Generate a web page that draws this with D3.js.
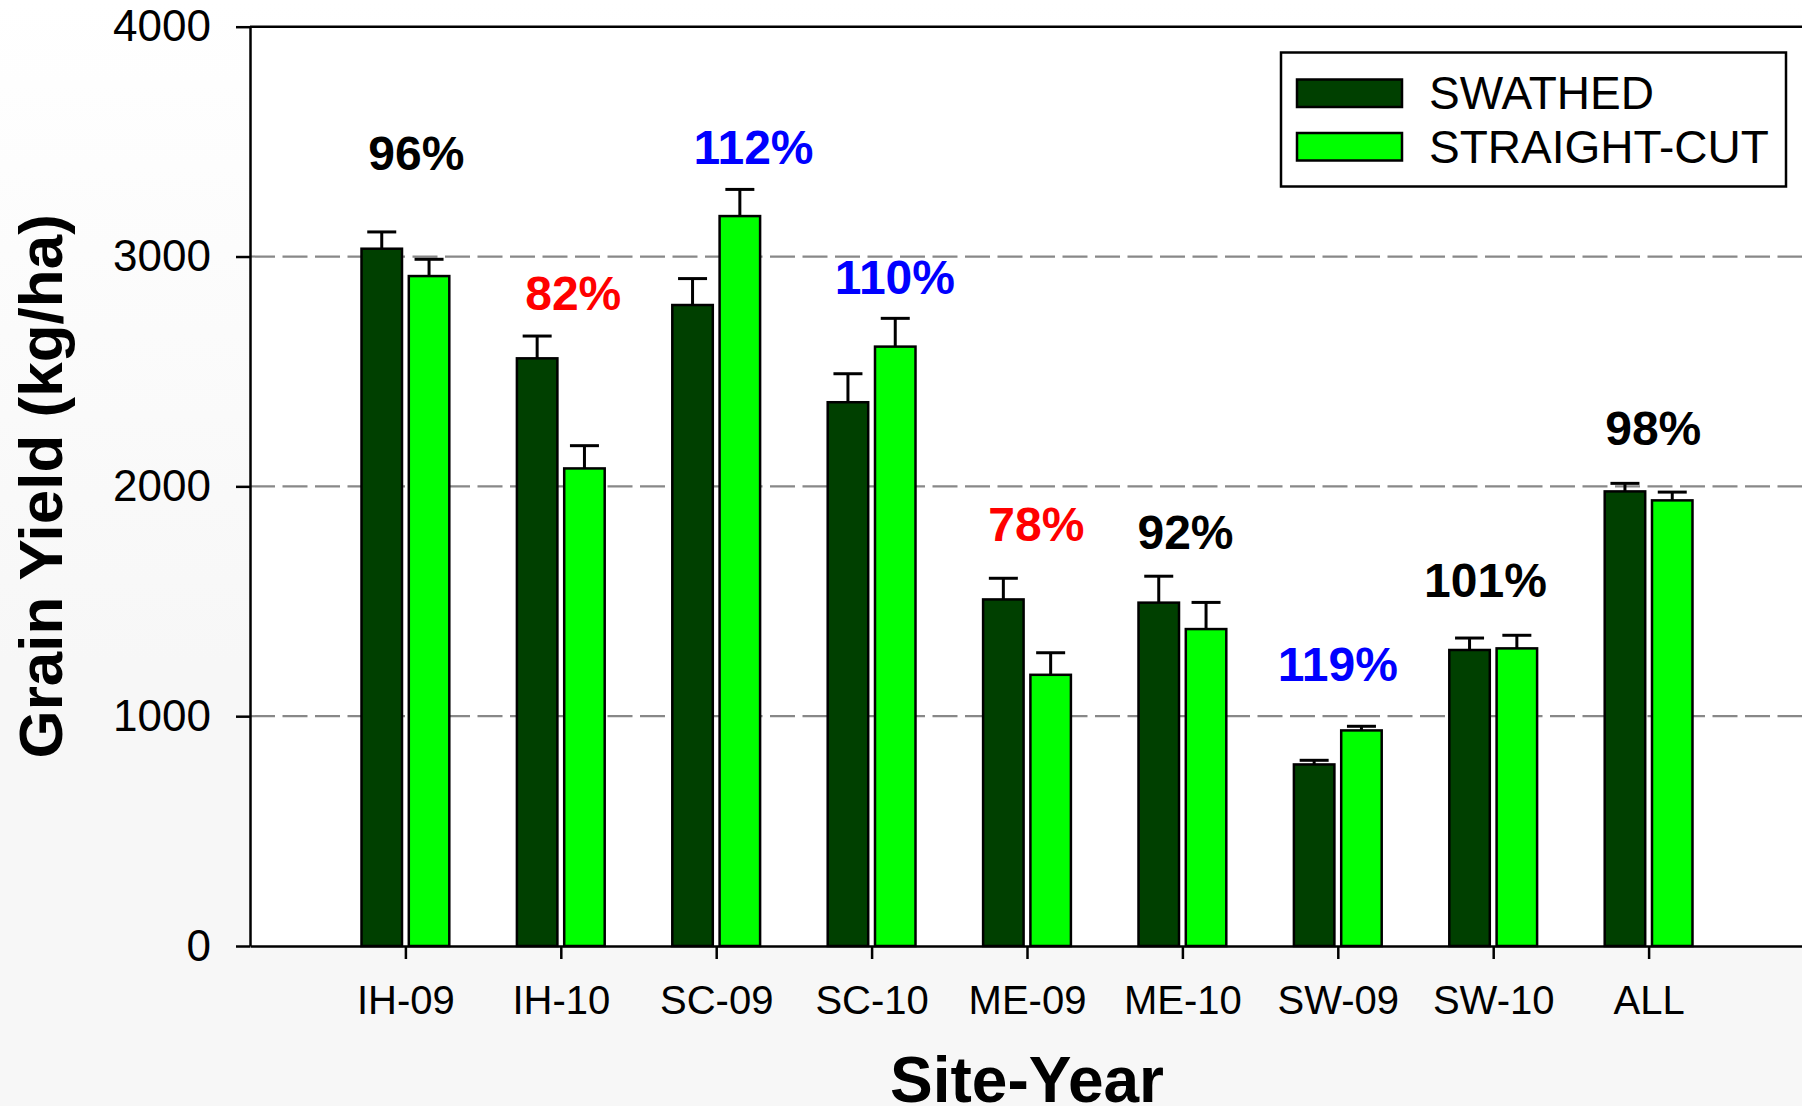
<!DOCTYPE html>
<html>
<head>
<meta charset="utf-8">
<script src="https://cdn.jsdelivr.net/npm/d3@7"></script>
<style>
  html, body { margin: 0; padding: 0; background: #ffffff; }
  svg { display: block; }
  text { font-family: "Liberation Sans", Arial, Helvetica, sans-serif; }
</style>
</head>
<body>
<svg id="chart" width="1802" height="1106"></svg>
<script>
// Site-years along the x axis
const siteYears = ["IH-09", "IH-10", "SC-09", "SC-10", "ME-09", "ME-10", "SW-09", "SW-10", "ALL"];
// Mean grain yield (kg/ha)
const swathed     = [3034, 2557, 2789, 2366, 1508, 1494, 790, 1288, 1978];
const straightCut = [2915, 2078, 3176, 2608, 1180, 1379, 938, 1295, 1939];
// Upper end of the standard-error bars (kg/ha)
const swathedErrTop     = [3107, 2654, 2904, 2490, 1600, 1609, 808, 1340, 2013];
const straightCutErrTop = [2988, 2177, 3292, 2731, 1276, 1495, 956, 1352, 1975];
// Straight-cut yield relative to swathed (%)
const relativeYield = [96, 82, 112, 110, 78, 92, 119, 101, 98];
// Y axis ticks
const yTicks = [0, 1000, 2000, 3000, 4000];
const seriesNames = ["SWATHED", "STRAIGHT-CUT"];

// Where each percentage sits: shift along the category axis and height in kg/ha
const labelShift = [0.07, 0.08, 0.24, 0.15, 0.06, 0.02, 0.0, -0.05, 0.03];
const labelLevel = [3376, 2767, 3403, 2836, 1762, 1727, 1153, 1520, 2180];

const W = 1802, H = 1106;
const svg = d3.select("#chart");

// page background: soft white-to-grey fade
const defs = svg.append("defs");
const grad = defs.append("linearGradient").attr("id", "bg").attr("x1", 0).attr("y1", 0).attr("x2", 0).attr("y2", 1);
grad.append("stop").attr("offset", "0").attr("stop-color", "#ffffff");
grad.append("stop").attr("offset", "0.6").attr("stop-color", "#f7f7f7");
grad.append("stop").attr("offset", "1").attr("stop-color", "#f7f7f7");
svg.append("rect").attr("width", W).attr("height", H).attr("fill", "url(#bg)");

const x = d3.scaleLinear().domain([0, siteYears.length + 1]).range([250, 1804]);
const y = d3.scaleLinear().domain([0, 4000]).range([946, 26.7]);

const barW = 40.5, barGap = 3.4, capHalf = 14.5;
const colSw = "#004000", colSc = "#00ff00";

// plot area
svg.append("rect")
  .attr("x", x(0)).attr("y", y(4000))
  .attr("width", x(siteYears.length + 1) - x(0)).attr("height", y(0) - y(4000))
  .attr("fill", "#ffffff");

// dashed reference lines
svg.append("g").selectAll("line")
  .data(yTicks.filter(v => v > 0 && v < 4000))
  .join("line")
  .attr("x1", x(0)).attr("x2", x(siteYears.length + 1))
  .attr("y1", d => y(d)).attr("y2", d => y(d))
  .attr("stroke", "#888888").attr("stroke-width", 2.2)
  .attr("stroke-dasharray", "25,7.5");

// bars and error bars
const rows = siteYears.map((s, i) => ({
  s, i,
  sw: swathed[i], sc: straightCut[i],
  swErr: swathedErrTop[i], scErr: straightCutErrTop[i]
}));

const groups = svg.append("g").selectAll("g")
  .data(rows).join("g")
  .attr("transform", d => `translate(${x(d.i + 1)},0)`);

function drawSeries(key, errKey, xLeft, fill) {
  // error bar stem and cap
  groups.append("line")
    .attr("x1", xLeft + barW / 2).attr("x2", xLeft + barW / 2)
    .attr("y1", d => y(d[key])).attr("y2", d => y(d[errKey]))
    .attr("stroke", "#000").attr("stroke-width", 3);
  groups.append("line")
    .attr("x1", xLeft + barW / 2 - capHalf).attr("x2", xLeft + barW / 2 + capHalf)
    .attr("y1", d => y(d[errKey])).attr("y2", d => y(d[errKey]))
    .attr("stroke", "#000").attr("stroke-width", 3);
  groups.append("rect")
    .attr("x", xLeft)
    .attr("y", d => y(d[key]))
    .attr("width", barW)
    .attr("height", d => y(0) - y(d[key]))
    .attr("fill", fill)
    .attr("stroke", "#000").attr("stroke-width", 2.5);
}
drawSeries("sw", "swErr", -barGap - barW, colSw);
drawSeries("sc", "scErr", barGap, colSc);

// axes
const yAxis = d3.axisLeft(y).tickValues(yTicks).tickFormat(d3.format("d"))
  .tickSize(14).tickPadding(25).tickSizeOuter(0);
const gy = svg.append("g").attr("transform", `translate(${x(0)},0)`).call(yAxis);
gy.selectAll("text").attr("font-size", 44).attr("fill", "#000")
  .attr("font-family", "Liberation Sans, Arial, sans-serif");

const xAxis = d3.axisBottom(x)
  .tickValues(d3.range(1, siteYears.length + 1))
  .tickFormat(v => siteYears[v - 1])
  .tickSize(13).tickPadding(27).tickSizeOuter(0);
const gx = svg.append("g").attr("transform", `translate(0,${y(0)})`).call(xAxis);
gx.selectAll("text").attr("font-size", 40).attr("fill", "#000")
  .attr("font-family", "Liberation Sans, Arial, sans-serif");

[gx, gy].forEach(g => {
  g.select(".domain").attr("stroke", "#000").attr("stroke-width", 2.5);
  g.selectAll(".tick line").attr("stroke", "#000").attr("stroke-width", 2.5);
});

// frame: top and right edges
svg.append("path")
  .attr("d", `M${x(0)},${y(4000)}H${x(siteYears.length + 1)}V${y(0)}`)
  .attr("fill", "none").attr("stroke", "#000").attr("stroke-width", 2.5);

// relative yield labels
const pctColor = p => p < 90 ? "#ff0000" : (p > 105 ? "#0000ff" : "#000000");
svg.append("g").selectAll("text")
  .data(relativeYield).join("text")
  .attr("x", (p, i) => x(i + 1 + labelShift[i]))
  .attr("y", (p, i) => y(labelLevel[i]))
  .attr("text-anchor", "middle")
  .attr("font-size", 48).attr("font-weight", "bold")
  .attr("fill", p => pctColor(p))
  .text(p => p + "%");

// axis titles
svg.append("text")
  .attr("x", (x(0) + x(siteYears.length + 1)) / 2).attr("y", 1102)
  .attr("text-anchor", "middle").attr("font-size", 64).attr("font-weight", "bold")
  .text("Site-Year");
svg.append("text")
  .attr("transform", `translate(62,${(y(0) + y(4000)) / 2}) rotate(-90)`)
  .attr("text-anchor", "middle").attr("font-size", 62).attr("font-weight", "bold")
  .text("Grain Yield (kg/ha)");

// legend
const lg = svg.append("g").attr("transform", "translate(1281,52.5)");
lg.append("rect").attr("width", 505).attr("height", 134)
  .attr("fill", "#ffffff").attr("stroke", "#000").attr("stroke-width", 2.5);
const items = lg.selectAll("g.item").data(seriesNames).join("g")
  .attr("class", "item")
  .attr("transform", (d, i) => `translate(16,${27 + i * 53.5})`);
items.append("rect").attr("width", 105).attr("height", 27.5)
  .attr("fill", (d, i) => i === 0 ? colSw : colSc)
  .attr("stroke", "#000").attr("stroke-width", 2.5);
items.append("text").attr("x", 132).attr("y", 29.5)
  .attr("font-size", 46).attr("fill", "#000")
  .text(d => d);
</script>
</body>
</html>
